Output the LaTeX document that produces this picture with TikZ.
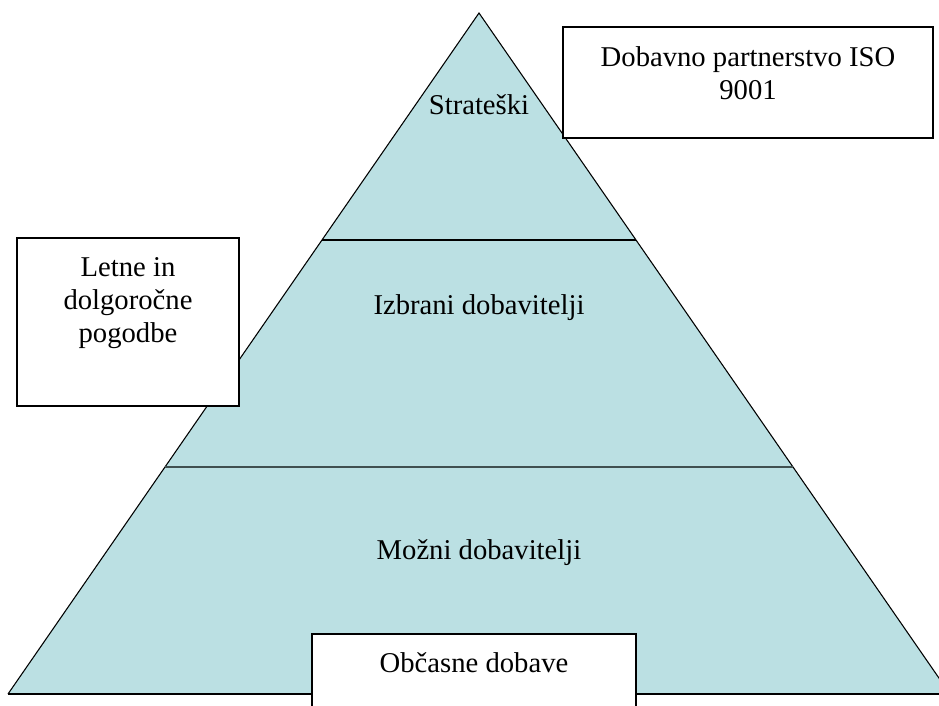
\documentclass[tikz,border=0pt]{standalone}
\usepackage{fontspec}
\setmainfont{Liberation Serif}
\usetikzlibrary{calc}

\begin{document}
\begin{tikzpicture}[x=0.75pt, y=-0.75pt]

\def\fsize{21.5}
\def\fskip{25}
\definecolor{pyramidblue}{RGB}{187,224,227}
\definecolor{darkline}{RGB}{64,80,80}

\tikzset{
  leveltext/.style={font=\fontsize{\fsize}{\fskip}\selectfont, inner sep=0pt, align=center},
  frame/.style={draw=black, fill=white, line width=1.4pt}
}

\useasboundingbox (0,0) rectangle (939,706);
\clip (0,0) rectangle (939,706);

\coordinate (top) at (479,13);
\coordinate (baseleft) at (8,694);
\coordinate (baseright) at (950,694);

% Piramida
\fill[pyramidblue] (top) -- (baseleft) -- (baseright) -- cycle;
\draw[line width=0.8pt] (baseleft) -- (top) -- (baseright);
\draw[line width=1.5pt] (baseleft) -- (baseright);

% Ločilne črte
\draw[line width=0.9pt] ($(top)!1/3!(baseleft)$) -- ($(top)!1/3!(baseright)$);
\draw[darkline, line width=1.8pt] ($(top)!2/3!(baseleft)$) -- ($(top)!2/3!(baseright)$);

% Ravni dobaviteljev
\node[leveltext, anchor=base] (strateski) at (479,115) {Strateški};
\node[leveltext, anchor=base] (izbrani) at (479,314) {Izbrani dobavitelji};
\node[leveltext, anchor=base] (mozni) at (479,559) {Možni dobavitelji};

% Okvirji
\draw[frame] (563,27) rectangle (933,138);
\node[leveltext, anchor=north] (partnerstvo) at (748,46) {Dobavno partnerstvo ISO\\9001};

\draw[frame] (17,238) rectangle (239,406);
\node[leveltext, anchor=north] (pogodbe) at (128,257) {Letne in\\dolgoročne\\pogodbe};

\draw[frame] (312,634) rectangle (636,720);
\node[leveltext, anchor=base] (obcasne) at (474,672) {Občasne dobave};

\end{tikzpicture}
\end{document}
